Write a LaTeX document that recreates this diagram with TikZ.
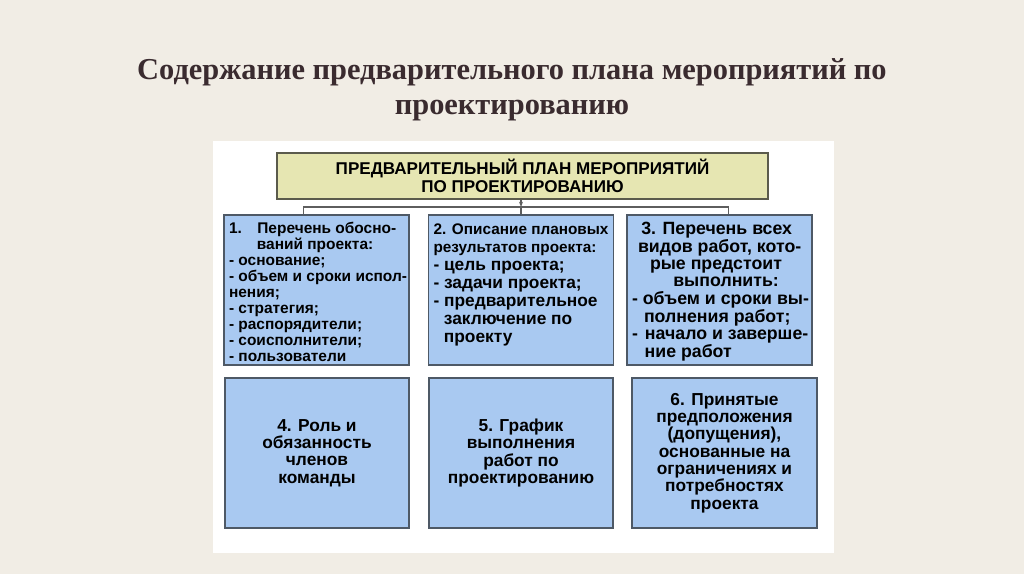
\documentclass[tikz,border=0pt]{standalone}
\usepackage{fontspec}
\setmainfont{Liberation Serif}
\setsansfont{Liberation Sans}
\usetikzlibrary{positioning, calc, arrows.meta}

\definecolor{pagebg}{HTML}{F1EDE5}
\definecolor{titletext}{HTML}{3A2B2F}
\definecolor{headfill}{HTML}{E6E6B2}
\definecolor{headline}{HTML}{5B5B4C}
\definecolor{boxfill}{HTML}{A9C9F1}
\definecolor{boxline}{HTML}{4E5966}
\definecolor{linkline}{HTML}{5E5E5E}

% text block of an upper box, set from its top, one row per line
\newcommand{\topblock}[2]{\parbox[c][102.5pt][t]{131.25pt}{#1%
    \begin{tabular}[t]{@{}l@{}}#2\end{tabular}}}
\newcommand{\itemsize}{\fontsize{13}{13.5}\selectfont}

\begin{document}
\begin{tikzpicture}[x=0.75pt, y=-0.75pt, >=Stealth,
    headbox/.style={draw=headline, fill=headfill, line width=1.1pt,
        minimum width=491*0.75pt, minimum height=46*0.75pt, align=center,
        font=\sffamily\bfseries\fontsize{12.8}{13.5}\selectfont},
    bluebox/.style={draw=boxline, fill=boxfill, line width=1.1pt,
        inner xsep=3.75pt, inner ysep=5pt, font=\sffamily\bfseries},
    lowbox/.style={draw=boxline, fill=boxfill, line width=1.1pt,
        minimum width=184*0.75pt, minimum height=150*0.75pt, align=center,
        font=\sffamily\bfseries\fontsize{13}{13}\selectfont},
    link/.style={draw=linkline, line width=0.8pt}]

    % page and white panel
    \fill[pagebg] (0,0) rectangle (1024,574);
    \useasboundingbox (0,0) rectangle (1024,574);
    \fill[white] (213,141) rectangle (834,553);

    % Title
    \node[font=\bfseries\fontsize{22.8}{26}\selectfont, text=titletext,
         align=center] (title) at (512,90)
        {Содержание предварительного плана мероприятий по\\ проектированию};

    % Head box
    \node[headbox] (head) at (522.5,176)
        {ПРЕДВАРИТЕЛЬНЫЙ ПЛАН МЕРОПРИЯТИЙ\\ ПО ПРОЕКТИРОВАНИЮ};

    % Upper row
    \node[bluebox] (b1) at (316.5,290) {\topblock{\fontsize{11.6}{12}\selectfont}{%
        1.\hspace{1em}Перечень обосно-\\
        \hspace*{1.8em}ваний проекта:\\
        - основание;\\
        - объем и сроки испол-\\
        нения;\\
        - стратегия;\\
        - распорядители;\\
        - соисполнители;\\
        - пользователи}};
    \node[bluebox] (b2) at (521,290) {\topblock{\fontsize{11.5}{13.5}\selectfont}{%
        2. Описание плановых\\
        результатов проекта:\\
        \itemsize - цель проекта;\\
        \itemsize - задачи проекта;\\
        \itemsize - предварительное\\
        \itemsize \hspace*{0.6em}заключение по\\
        \itemsize \hspace*{0.6em}проекту}};
    \node[bluebox] (b3) at (719.5,290) {\topblock{\fontsize{13.3}{12.8}\selectfont}{%
        \hspace*{7pt}3. Перечень всех\\
        \hspace*{4.5pt}видов работ, кото-\\
        \hspace*{13.5pt}рые предстоит\\
        \hspace*{31pt}выполнить:\\
        - объем и сроки вы-\\
        \hspace*{9pt}полнения работ;\\
        -\hspace{0.4em}начало и заверше-\\
        \hspace*{9.5pt}ние работ}};

    % Lower row
    \node[lowbox] (b4) at (317,453) {4. Роль и\\ обязанность\\ членов\\ команды};
    \node[lowbox] (b5) at (521,453) {5. График\\ выполнения\\ работ по\\ проектированию};
    \node[lowbox, minimum width=185*0.75pt] (b6) at (724.5,453)
        {6. Принятые\\ предположения\\ (допущения),\\ основанные на\\
         ограничениях и\\ потребностях\\ проекта};

    % Links from the head box to the upper row
    \coordinate (bus) at (521,207);
    \draw[link, -{Stealth[length=4pt, width=3pt]}] (head.south -| bus) -- (bus);
    \draw[link] (bus) -- (bus |- b2.north);
    \draw[link] ($(b1.north west)+(80,0)$) |- (bus) -| ($(b3.north west)+(102,0)$);

\end{tikzpicture}
\end{document}
